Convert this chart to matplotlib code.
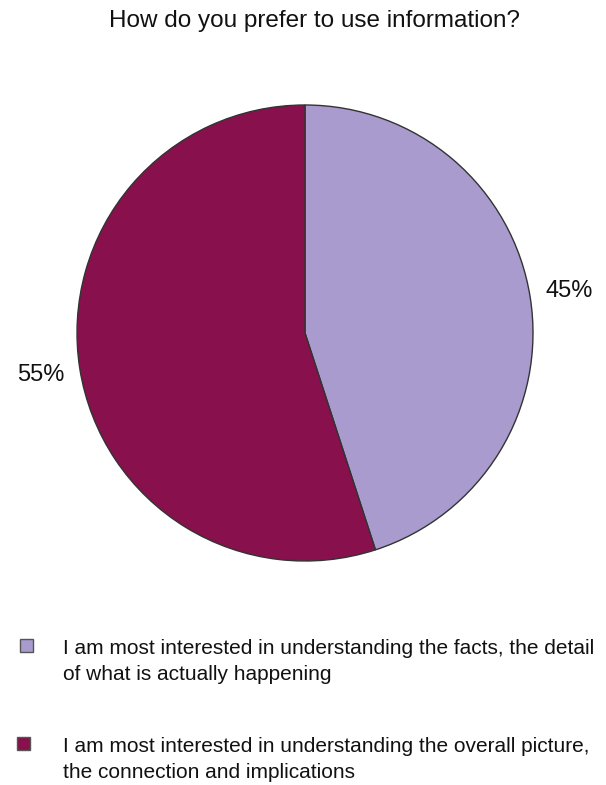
import matplotlib.pyplot as plt
from matplotlib.patches import Rectangle

plt.rcParams['font.family'] = ['Liberation Sans', 'DejaVu Sans']

title = "How do you prefer to use information?"
answers = [
    "I am most interested in understanding the facts, the detail\nof what is actually happening",
    "I am most interested in understanding the overall picture,\nthe connection and implications",
]
shares = [45, 55]
colors = ["#a99bce", "#87104d"]

W, H = 606, 785
fig = plt.figure(figsize=(W / 100, H / 100), dpi=100)
fig.patch.set_facecolor("white")

# pie area: centre (305, 333), radius 228 px
cx, cy, r = 305, 333, 228
ax = fig.add_axes([(cx - r) / W, (H - cy - r) / H, 2 * r / W, 2 * r / H])
wedges, texts, pcts = ax.pie(shares, colors=colors, startangle=90, counterclock=False,
                             autopct="%d%%", pctdistance=1.175,
                             wedgeprops=dict(edgecolor="#333333", linewidth=1.0))
for t in pcts:
    t.set_fontsize(17)
    t.set_color("#111111")
ax.set_xlim(-1, 1)
ax.set_ylim(-1, 1)
ax.set_aspect("equal")
ax.axis("off")

fig.text(314 / W, 1 - 21 / H, title, ha="center", va="center", fontsize=17.5, color="#111111")

# legend, marker lines up with the first text line
rows = [[20, 639], [17, 737]]
for lab, col, (mx, y) in zip(answers, colors, rows):
    fig.patches.append(Rectangle((mx / W, 1 - (y + 13) / H), 13 / W, 13 / H,
                                 transform=fig.transFigure, facecolor=col,
                                 edgecolor="#555555", linewidth=1.0))
    fig.text(63 / W, 1 - y / H, lab, ha="left", va="top", fontsize=15,
             color="#111111", linespacing=1.45)

fig.savefig("out.png", dpi=100)
